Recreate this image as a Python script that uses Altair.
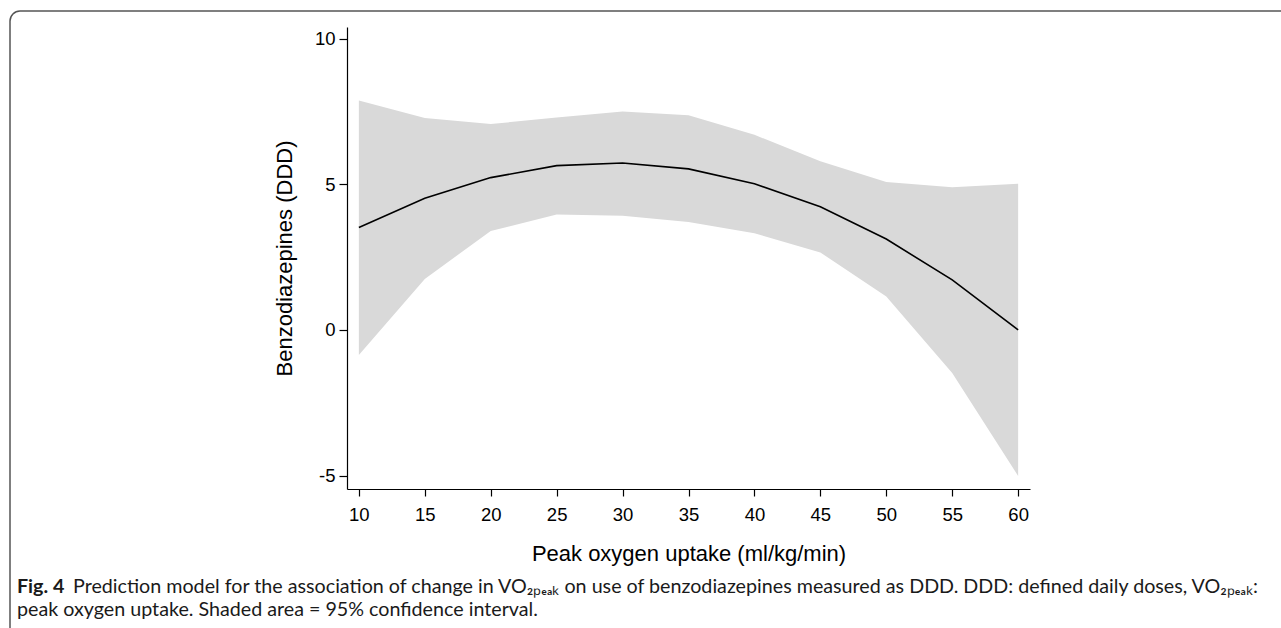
import altair as alt
import pandas as pd

# Data
vo2 = [10, 15, 20, 25, 30, 35, 40, 45, 50, 55, 60]
pred = [3.52, 4.52, 5.23, 5.64, 5.73, 5.53, 5.02, 4.23, 3.12, 1.72, 0.0]
lower = [-0.86, 1.75, 3.40, 3.96, 3.92, 3.71, 3.32, 2.66, 1.15, -1.48, -5.01]
upper = [7.88, 7.28, 7.07, 7.29, 7.50, 7.37, 6.70, 5.79, 5.08, 4.90, 5.02]

x_ticks = [10, 15, 20, 25, 30, 35, 40, 45, 50, 55, 60]
y_ticks = [-5, 0, 5, 10]

df = pd.DataFrame({"x": vo2, "pred": pred, "lo": lower, "hi": upper})

W, H = 683, 462
PAD_L, PAD_T = 347, 27

xscale = alt.Scale(domain=[9.1, 60.9], nice=False, zero=False)
yscale = alt.Scale(domain=[-5.46, 10.40], nice=False, zero=False)

base = alt.Chart(df)

area = base.mark_area(color="#d9d9d9", opacity=1).encode(
    x=alt.X("x:Q", scale=xscale,
            axis=alt.Axis(values=x_ticks, title="Peak oxygen uptake (ml/kg/min)",
                          titleY=71, titleBaseline="alphabetic",
                          labelFont="Liberation Sans", labelFontSize=18.5,
                          labelExpr="'' + datum.value",
                          labelPadding=9, tickSize=7)),
    y=alt.Y("lo:Q", scale=yscale,
            axis=alt.Axis(values=y_ticks, title="Benzodiazepines (DDD)",
                          titleX=-56, titleY=H / 2, titleAngle=-90,
                          titleBaseline="alphabetic", titleAlign="center",
                          labelFont="Liberation Sans", labelFontSize=18.5,
                          labelExpr="'' + datum.value",
                          labelPadding=4, tickSize=8)),
    y2="hi:Q",
)

line = base.mark_line(color="black", strokeWidth=1.6).encode(
    x=alt.X("x:Q", scale=xscale),
    y=alt.Y("pred:Q", scale=yscale),
)

one = alt.Chart(pd.DataFrame({"k": [0]}))

cap_font = "Lato"
cap_size = 19.7
cap_color = "#1a1a1a"

fig_lbl = one.mark_text(font=cap_font, fontSize=cap_size, fontWeight="bold",
                        align="left", baseline="alphabetic", color=cap_color,
                        text="Fig. 4").encode(
    x=alt.value(17 - PAD_L), y=alt.value(593 - PAD_T))

cap1 = one.mark_text(font=cap_font, fontSize=cap_size, align="left",
                     baseline="alphabetic", color=cap_color,
                     text="Prediction model for the association of change in VO₂ₚₑₐₖ on use of benzodiazepines measured as DDD. DDD: defined daily doses, VO₂ₚₑₐₖ:").encode(
    x=alt.value(73 - PAD_L), y=alt.value(593 - PAD_T))

cap2 = one.mark_text(font=cap_font, fontSize=cap_size, align="left",
                     baseline="alphabetic", color=cap_color,
                     text="peak oxygen uptake. Shaded area = 95% confidence interval.").encode(
    x=alt.value(17 - PAD_L), y=alt.value(616 - PAD_T))

border = one.mark_rect(fillOpacity=0, stroke="#555555", strokeWidth=1.5,
                       cornerRadius=10).encode(
    x=alt.value(10 - PAD_L), x2=alt.value(1281 - PAD_L + 30),
    y=alt.value(11 - PAD_T), y2=alt.value(628 - PAD_T + 30))

chart = alt.layer(area, line, fig_lbl, cap1, cap2, border).properties(
    width=W, height=H,
    autosize=alt.AutoSizeParams(type="none"),
    padding={"left": PAD_L, "top": PAD_T, "right": 1281 - PAD_L - W, "bottom": 628 - PAD_T - H},
    background="white",
).configure_view(stroke=None).configure_axis(
    grid=False,
    domainColor="black", domainWidth=1.2,
    tickColor="black", tickWidth=1.2,
    labelFont="Liberation Sans", labelFontSize=18.5, labelColor="black",
    titleFont="Liberation Sans", titleFontSize=22, titleFontWeight="normal", titleColor="black",
)

chart.save("out.html", embed_options={"renderer": "svg", "actions": False})
